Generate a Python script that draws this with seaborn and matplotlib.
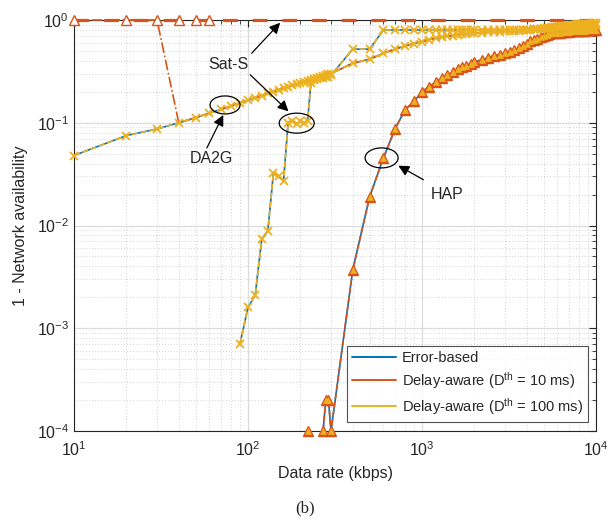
import numpy as np
import pandas as pd
import matplotlib
matplotlib.use("Agg")
import matplotlib.pyplot as plt
import matplotlib.ticker as mticker
from matplotlib.lines import Line2D
from matplotlib.patches import Ellipse
import seaborn as sns

# data (1 - availability vs data rate, kbps)
rate_kbps = [10, 20, 30, 40, 50, 60, 70, 80, 90, 100, 110, 120, 130, 140, 150,
             160, 170, 180, 190, 200, 210, 220, 230, 240, 250, 260, 270, 280, 290, 300,
             400, 500, 600, 700, 800, 900,
             1000, 1100, 1200, 1300, 1400, 1500, 1600, 1700, 1800, 1900, 2000,
             2200, 2400, 2600, 2800, 3000, 3200, 3400, 3600, 3800, 4000,
             4200, 4400, 4600, 4800, 5000, 5200, 5400, 5600, 5800, 6000,
             6200, 6400, 6600, 6800, 7000, 7200, 7400, 7600, 7800, 8000,
             8200, 8400, 8600, 8800, 9000, 9200, 9400, 9600, 9800, 10000]

nan = np.nan

# DA2G scenario
da2g_err = [0.048, 0.075, 0.087, 0.100, 0.112, 0.124, 0.135, 0.146, 0.156, 0.166,
            0.175, 0.184, 0.193, 0.201, 0.209, 0.217, 0.224, 0.231, 0.238, 0.245,
            0.251, 0.257, 0.263, 0.269, 0.275, 0.280, 0.286, 0.291, 0.296, 0.301,
            0.38, 0.415, 0.475, 0.52, 0.56, 0.59,
            0.615, 0.645, 0.665, 0.68, 0.695, 0.705, 0.715, 0.725, 0.73, 0.74, 0.745,
            0.755, 0.76, 0.765, 0.77, 0.775, 0.78, 0.785, 0.79, 0.795, 0.80,
            0.805, 0.81, 0.815, 0.82, 0.825, 0.83, 0.835, 0.84, 0.845, 0.85,
            0.853, 0.856, 0.859, 0.862, 0.865, 0.868, 0.871, 0.874, 0.877, 0.88,
            0.882, 0.884, 0.886, 0.888, 0.89, 0.892, 0.894, 0.896, 0.898, 0.90]
# 10 ms delay: unavailable up to 30 kbps, then same as error-based
da2g_d10_head = [1.0, 1.0, 1.0]

# Sat-S scenario
sats_err = [nan, nan, nan, nan, nan, nan, nan, nan,
            7.1e-4, 1.6e-3, 2.1e-3, 7.4e-3, 8.8e-3, 0.0325, 0.030, 0.027,
            0.100, 0.105, 0.098, 0.103, 0.100, 0.104,
            0.245, 0.26, 0.265, 0.27, 0.275, 0.28, 0.28, 0.29,
            0.52, 0.52, 0.80, 0.80, 0.80, 0.80,
            0.80, 0.80, 0.80, 0.80, 0.80, 0.80, 0.80, 0.80, 0.80, 0.80, 0.80,
            0.80, 0.80, 0.80, 0.80, 0.80, 0.80, 0.80, 0.80, 0.80, 0.80,
            0.805, 0.81, 0.815, 0.82, 0.83, 0.835, 0.84, 0.85, 0.855, 0.86,
            0.865, 0.87, 0.875, 0.88, 0.885, 0.89, 0.895, 0.90, 0.905, 0.91,
            0.912, 0.914, 0.916, 0.918, 0.92, 0.922, 0.924, 0.926, 0.928, 0.93]
sats_d10 = [1.0] * len(rate_kbps)   # never meets the 10 ms delay bound

# HAP scenario
hap_err = [nan] * 21 + [1e-4, nan, nan, nan, nan, 1e-4, 2e-4, 2e-4, 1e-4,
           3.7e-3, 0.019, 0.0454, 0.087, 0.134, 0.161,
           0.201, 0.225, 0.248, 0.27, 0.29, 0.31, 0.33, 0.345, 0.36, 0.375, 0.39,
           0.41, 0.43, 0.45, 0.46, 0.475, 0.49, 0.51, 0.53, 0.56, 0.59,
           0.62, 0.64, 0.66, 0.68, 0.70, 0.72, 0.73, 0.74, 0.745, 0.75,
           0.755, 0.76, 0.765, 0.77, 0.77, 0.775, 0.78, 0.78, 0.785, 0.785,
           0.787, 0.789, 0.79, 0.791, 0.792, 0.793, 0.794, 0.795, 0.797, 0.80]

legend_labels = ["Error-based",
                 r"Delay-aware (D$^{\mathrm{th}}$ = 10 ms)",
                 r"Delay-aware (D$^{\mathrm{th}}$ = 100 ms)"]

BLUE = "#0072BD"
RED = "#D95319"
YEL = "#EDB120"

sns.set_style("white")
plt.rcParams["font.family"] = ["Liberation Sans", "DejaVu Sans"]
plt.rcParams["mathtext.fontset"] = "custom"
plt.rcParams["mathtext.rm"] = "Liberation Sans"
plt.rcParams["mathtext.it"] = "Liberation Sans:italic"
plt.rcParams["mathtext.bf"] = "Liberation Sans:bold"
plt.rcParams["axes.unicode_minus"] = False

fig = plt.figure(figsize=(6.11, 5.22), dpi=100)
ax = fig.add_axes([74 / 611, 91 / 522, 522 / 611, 411 / 522])
ax.set_xscale("log")
ax.set_yscale("log")


def draw(values, **kw):
    # split at missing values so gaps are not bridged, like MATLAB does
    df = pd.DataFrame({"rate": rate_kbps, "val": values})
    ok = df["val"].notna()
    seg = (~ok).cumsum()
    for _, part in df[ok].groupby(seg[ok]):
        sns.lineplot(data=part, x="rate", y="val", ax=ax, estimator=None,
                     sort=False, clip_on=False, zorder=3, **kw)


da2g_d10 = da2g_d10_head + da2g_err[3:]

# error-based (blue)
draw(da2g_err, color=BLUE, lw=1.2)
draw(sats_err, color=BLUE, lw=1.2)
draw(hap_err, color=BLUE, lw=1.2)

# delay-aware 10 ms (red)
draw(sats_d10, color=RED, lw=2.3, linestyle=(0, (4.6, 4.7)), marker="^", ms=6.5,
     mfc="white", mec=RED, mew=1.0, markevery=[3, 4, 5])
draw(da2g_d10, color=RED, lw=1.2, linestyle="-.", marker="^", ms=6.5,
     mfc="white", mec=RED, mew=1.0, markevery=[0, 1, 2])
draw(hap_err, color=RED, lw=1.2, linestyle="--", marker="^", ms=7,
     mfc=RED, mec=RED, mew=1.0)

# delay-aware 100 ms (yellow)
draw(hap_err, color=YEL, lw=0, marker="^", ms=4.6, mfc=YEL, mec=YEL, mew=0.5)
draw(da2g_err, color=YEL, lw=1.2, linestyle="--", marker="x", ms=6, mec=YEL, mew=1.3)
draw(sats_err, color=YEL, lw=1.2, linestyle="--", marker="x", ms=6, mec=YEL, mew=1.3)

ax.set_xlim(10, 1e4)
ax.set_ylim(1e-4, 1)
ax.xaxis.set_major_locator(mticker.LogLocator(base=10, numticks=10))
ax.yaxis.set_major_locator(mticker.LogLocator(base=10, numticks=10))
ax.xaxis.set_minor_locator(mticker.LogLocator(base=10, subs=np.arange(2, 10), numticks=50))
ax.yaxis.set_minor_locator(mticker.LogLocator(base=10, subs=np.arange(2, 10), numticks=50))
ax.xaxis.set_minor_formatter(mticker.NullFormatter())
ax.yaxis.set_minor_formatter(mticker.NullFormatter())

ax.set_axisbelow(True)
ax.grid(which="major", color="#dcdcdc", lw=0.9, ls="-")
ax.grid(which="minor", color="#c4c4c4", lw=0.6, ls=(0, (1, 2.5)))
ax.tick_params(which="both", direction="in", top=True, right=True,
               colors="#262626", labelsize=11.5)
ax.tick_params(which="major", length=5, width=0.8)
ax.tick_params(which="minor", length=2.8, width=0.6)
ax.tick_params(axis="x", pad=7)
for s in ax.spines.values():
    s.set_visible(True)
    s.set_color("#262626")
    s.set_linewidth(0.8)
    s.set_zorder(2.5)

ax.set_xlabel("Data rate (kbps)", fontsize=11.5, color="#262626", labelpad=5)
ax.set_ylabel("1 - Network availability", fontsize=11.5, color="#262626", labelpad=6)


# annotations
def frac(x, y):
    return ((np.log10(x) - 1) / 3, (np.log10(y) + 4) / 4)


for (cx, cy), w, h in [((73.8, 0.149), 30, 18), ((190.5, 0.0991), 35, 20),
                       ((586, 0.0455), 33, 20)]:
    ax.add_patch(Ellipse(frac(cx, cy), w / 522, h / 411, transform=ax.transAxes,
                         fill=False, ec="black", lw=0.9, zorder=6))

arrow = dict(arrowstyle="-|>", color="black", lw=0.9, mutation_scale=16,
             shrinkA=0, shrinkB=0)
ax.text(77, 0.365, "Sat-S", fontsize=11.5, ha="center", va="center", zorder=7)
ax.annotate("", xy=(153, 0.94), xytext=(105, 0.475), arrowprops=arrow, zorder=7)
ax.annotate("", xy=(171, 0.129), xytext=(103, 0.293), arrowprops=arrow, zorder=7)
ax.text(61.8, 0.0444, "DA2G", fontsize=11.5, ha="center", va="center", zorder=7)
ax.annotate("", xy=(72.1, 0.119), xytext=(58, 0.0569), arrowprops=arrow, zorder=7)
ax.text(1387, 0.020, "HAP", fontsize=11.5, ha="center", va="center", zorder=7)
ax.annotate("", xy=(731, 0.0382), xytext=(1019, 0.0279), arrowprops=arrow, zorder=7)

handles = [Line2D([], [], color=c, lw=1.4) for c in (BLUE, RED, YEL)]
leg = ax.legend(handles, legend_labels, loc="lower right",
                bbox_to_anchor=(0.985, 0.022), borderaxespad=0, fontsize=10.5,
                frameon=True, fancybox=False, handlelength=3.0, handletextpad=0.4,
                labelspacing=0.35, borderpad=0.35)
leg.get_frame().set_edgecolor("#262626")
leg.get_frame().set_linewidth(0.8)
leg.set_zorder(8)

fig.text(305 / 611, 1 - 508 / 522, "(b)", fontsize=12, ha="center", va="center",
         family="Liberation Serif")

fig.savefig("out.png", dpi=100)
